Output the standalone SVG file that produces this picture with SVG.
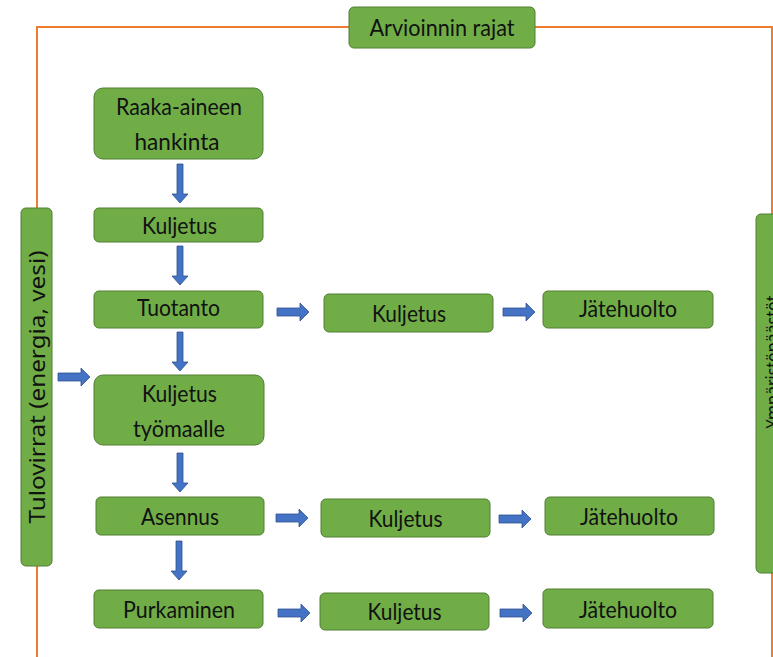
<svg xmlns="http://www.w3.org/2000/svg" width="773" height="657" viewBox="0 0 773 657">
<defs>
<style>
.box{fill:#70AD47;stroke:#507E32;stroke-width:1}
.t{font-family:Lato,"Liberation Sans",sans-serif;font-size:23px;fill:#111;text-anchor:middle}
.side{font-family:"Noto Sans","Open Sans",sans-serif;font-size:21px;fill:#111;text-anchor:middle}
.arr{fill:#4472C4;stroke:#2F528F;stroke-width:0.8}
.border{fill:none;stroke:#ED7D31;stroke-width:2}
</style>
<path id="ra" d="M0,-4 H23 V-9 L32,0 L23,9 V4 H0 Z"/>
<path id="da" d="M-3,0 V30 H-8 L0,39 L8,30 H3 V0 Z"/>
</defs>
<rect width="773" height="657" fill="#fff"/>
<path class="border" d="M37,657 V27 H773"/>
<line class="border" x1="772" y1="27" x2="772" y2="657"/>

<g id="title"><rect class="box" x="349" y="7" width="186" height="41" rx="5"/><text class="t" x="442" y="36" textLength="145" lengthAdjust="spacingAndGlyphs">Arvioinnin rajat</text></g>
<g id="tulovirrat"><rect class="box" x="21" y="208" width="31" height="358" rx="5"/><text class="side" transform="translate(45,387) rotate(-90)" textLength="273" lengthAdjust="spacingAndGlyphs">Tulovirrat (energia, vesi)</text></g>
<g id="ymparisto"><rect class="box" x="756" y="214" width="40" height="359" rx="5"/><text class="side" style="font-size:18px" transform="translate(779,362) rotate(-90)" textLength="133" lengthAdjust="spacingAndGlyphs">Ympäristöpäästöt</text></g>

<g id="raaka"><rect class="box" x="94" y="88" width="169" height="71" rx="9"/><text class="t" x="179" y="115" textLength="126" lengthAdjust="spacingAndGlyphs">Raaka-aineen</text><text class="t" x="177" y="150" textLength="85" lengthAdjust="spacingAndGlyphs">hankinta</text></g>
<g id="kuljetus1"><rect class="box" x="94" y="208" width="169" height="34" rx="5"/><text class="t" x="179.5" y="234" textLength="75" lengthAdjust="spacingAndGlyphs">Kuljetus</text></g>
<g id="tuotanto"><rect class="box" x="94" y="291" width="169" height="37" rx="5"/><text class="t" x="178.5" y="316" textLength="83" lengthAdjust="spacingAndGlyphs">Tuotanto</text></g>
<g id="tyomaalle"><rect class="box" x="94" y="375" width="170" height="70" rx="9"/><text class="t" x="179.5" y="402" textLength="75" lengthAdjust="spacingAndGlyphs">Kuljetus</text><text class="t" x="179" y="437" textLength="92" lengthAdjust="spacingAndGlyphs">työmaalle</text></g>
<g id="asennus"><rect class="box" x="96" y="497" width="168" height="38" rx="5"/><text class="t" x="180" y="525" textLength="78" lengthAdjust="spacingAndGlyphs">Asennus</text></g>
<g id="purkaminen"><rect class="box" x="94" y="590" width="169" height="38" rx="5"/><text class="t" x="179" y="618" textLength="112" lengthAdjust="spacingAndGlyphs">Purkaminen</text></g>

<g id="kuljetus2"><rect class="box" x="324" y="294" width="169" height="38" rx="5"/><text class="t" x="409" y="322" textLength="74" lengthAdjust="spacingAndGlyphs">Kuljetus</text></g>
<g id="jatehuolto1"><rect class="box" x="543" y="291" width="170" height="37" rx="5"/><text class="t" x="628" y="317" textLength="98" lengthAdjust="spacingAndGlyphs">Jätehuolto</text></g>
<g id="kuljetus3"><rect class="box" x="321" y="499" width="169" height="38" rx="5"/><text class="t" x="405.5" y="527" textLength="74" lengthAdjust="spacingAndGlyphs">Kuljetus</text></g>
<g id="jatehuolto2"><rect class="box" x="545" y="497" width="169" height="38" rx="5"/><text class="t" x="629" y="525" textLength="98" lengthAdjust="spacingAndGlyphs">Jätehuolto</text></g>
<g id="kuljetus4"><rect class="box" x="320" y="593" width="169" height="37" rx="5"/><text class="t" x="404.5" y="620" textLength="74" lengthAdjust="spacingAndGlyphs">Kuljetus</text></g>
<g id="jatehuolto3"><rect class="box" x="543" y="589" width="170" height="39" rx="5"/><text class="t" x="628" y="618" textLength="98" lengthAdjust="spacingAndGlyphs">Jätehuolto</text></g>

<g id="connectors" class="arr">
<use href="#da" x="180" y="164"/>
<use href="#da" x="180" y="246"/>
<use href="#da" x="180" y="332"/>
<use href="#da" x="180" y="453"/>
<use href="#da" x="179" y="541"/>
<use href="#ra" x="58" y="377"/>
<use href="#ra" x="277" y="312"/>
<use href="#ra" x="503" y="312"/>
<use href="#ra" x="276" y="518"/>
<use href="#ra" x="499" y="519"/>
<use href="#ra" x="278" y="613"/>
<use href="#ra" x="500" y="613"/>
</g>
</svg>
